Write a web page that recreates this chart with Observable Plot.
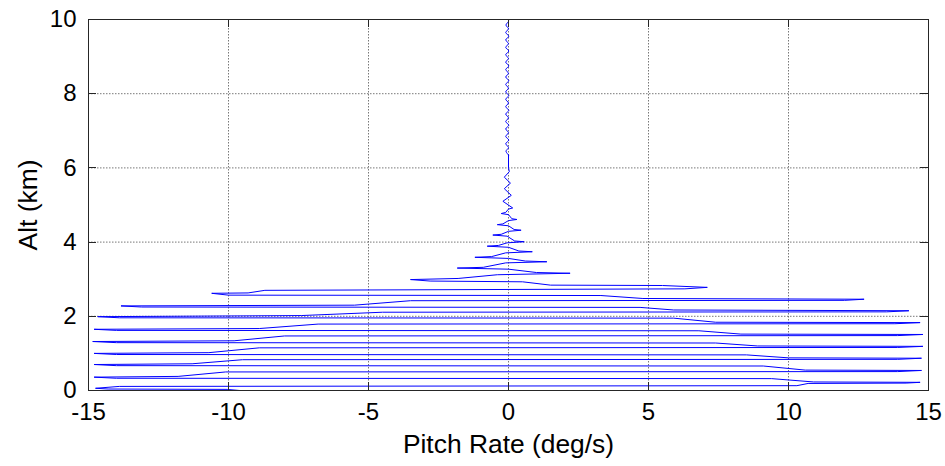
<!DOCTYPE html>
<html>
<head>
<meta charset="utf-8">
<script src="https://cdn.jsdelivr.net/npm/d3@7"></script>
<script src="https://cdn.jsdelivr.net/npm/@observablehq/plot@0.6"></script>
<style>
  html, body { margin: 0; padding: 0; background: #fff; }
  #chart svg { display: block; }
</style>
</head>
<body>
<div id="chart"></div>
<script>
// ---- data ----
const xTicks = [-15, -10, -5, 0, 5, 10, 15];
const yTicks = [0, 2, 4, 6, 8, 10];
const xLabel = "Pitch Rate (deg/s)";
const yLabel = "Alt (km)";

// oscillating part (pitch rate deg/s, altitude km), in time order
const sweepPitch = [
  -9.6, -10.05, -14.3, -14.75, -13.9, 10.3, 10.7, 14.2, 14.7,
  10.9, 9.4, -14.0, -14.8,
  -11.8, -10.1, 13.9, 14.75,
  10.6, 9.1, -14.0, -14.8,
  -11.3, -9.5, 13.9, 14.75,
  10.0, 8.5, -14.0, -14.8,
  -10.7, -8.9, 13.9, 14.8,
  8.9, 7.4, -14.0, -14.85,
  -9.8, -8.0, 13.9, 14.8,
  8.3, 6.8, -14.0, -14.8,
  -8.9, -6.8, 13.8, 14.7,
  7.4, 5.9, -13.9, -14.67,
  -7.4, -4.5, 13.5, 14.3,
  5.9, 4.7, -13.1, -13.84,
  -5.5, -3.5, 12.0, 12.7,
  4.8, 3.3, -10.0, -10.6,
  -9.3, -8.7, 6.3, 7.1,
  5.5, 1.5, 0.5, -2.8, -3.5,
  -1.8, -0.4, 2.2,
  1.0, 0.0, -1.83,
  -0.9, -0.1, 1.37,
  0.6, 0.0, -1.2,
  -0.6, -0.1, 0.85,
  0.37, 0.0, -0.76,
  -0.36, -0.05, 0.56,
  0.22, -0.05, -0.56,
  -0.26, 0.0, 0.45,
  0.2, 0.0, -0.4,
  -0.2, 0.0, 0.3,
  0.12, 0.0, -0.26,
  -0.1, 0.0, 0.15,
  -0.2, 0.1, -0.15, 0.07, -0.15, 0.03, 0.0, 0.0
];
const sweepAlt = [
  0.00, 0.03, 0.04, 0.06, 0.11, 0.13, 0.19, 0.20, 0.22,
  0.23, 0.32, 0.33, 0.36,
  0.38, 0.50, 0.51, 0.54,
  0.55, 0.66, 0.67, 0.70,
  0.72, 0.83, 0.84, 0.87,
  0.88, 0.96, 0.97, 1.00,
  1.02, 1.15, 1.16, 1.19,
  1.20, 1.28, 1.29, 1.32,
  1.34, 1.47, 1.48, 1.51,
  1.52, 1.61, 1.62, 1.65,
  1.67, 1.79, 1.80, 1.83,
  1.84, 1.95, 1.96, 1.99,
  2.02, 2.11, 2.12, 2.15,
  2.17, 2.24, 2.25, 2.28,
  2.30, 2.42, 2.43, 2.46,
  2.48, 2.56, 2.57, 2.62,
  2.63, 2.70, 2.74, 2.78,
  2.83, 2.84, 2.93, 2.95, 2.99,
  3.02, 3.12, 3.16,
  3.18, 3.27, 3.30,
  3.32, 3.44, 3.47,
  3.49, 3.56, 3.59,
  3.61, 3.71, 3.74,
  3.76, 3.86, 3.89,
  3.91, 3.98, 4.01,
  4.03, 4.16, 4.19,
  4.21, 4.29, 4.32,
  4.34, 4.44, 4.47,
  4.49, 4.58, 4.61,
  4.63, 4.74, 4.77,
  4.80, 4.89, 4.92,
  5.10, 5.26, 5.44, 5.59, 5.75, 5.90, 6.00, 6.35
];

// small residual wiggle at high altitude
const wigglePitch = [
  0.0, -0.09, 0.0, -0.1, 0.01, -0.1, 0.0, -0.1, 0.01, -0.1, 0.0,
  -0.1, 0.01, -0.1, 0.0, -0.1, 0.01, -0.1, 0.0, -0.1, 0.01,
  -0.1, 0.0, -0.1, 0.01, -0.1, 0.0, -0.1, 0.01, -0.1, 0.0,
  -0.1, 0.01, -0.1, 0.0, -0.09, 0.0, 0.0
];
const wiggleAlt = [
  6.35, 6.45, 6.55, 6.65, 6.75, 6.85, 6.95, 7.05, 7.15, 7.25, 7.35,
  7.45, 7.55, 7.65, 7.75, 7.85, 7.95, 8.05, 8.15, 8.25, 8.35,
  8.45, 8.55, 8.65, 8.75, 8.85, 8.95, 9.05, 9.15, 9.25, 9.35,
  9.45, 9.55, 9.65, 9.75, 9.85, 9.95, 10.0
];

const sweep = sweepPitch.map((p, i) => ({pitch: p, alt: sweepAlt[i]}));
const wiggle = wigglePitch.map((p, i) => ({pitch: p, alt: wiggleAlt[i]}));

const font = "'Liberation Sans', Arial, Helvetica, sans-serif";
const fs = 24;      // tick labels
const lfs = 26.4;   // axis labels

const chart = Plot.plot({
  width: 945,
  height: 466,
  marginLeft: 88,
  marginRight: 17,
  marginTop: 19,
  marginBottom: 76,
  style: {fontFamily: font, fontSize: fs + "px", background: "#fff", color: "#000"},
  x: {domain: [-15, 15], label: null},
  y: {domain: [0, 10], label: null},
  marks: [
    Plot.gridX(xTicks, {stroke: "#555", strokeOpacity: 1, strokeWidth: 0.8, strokeDasharray: "1.5,1.5"}),
    Plot.gridY(yTicks, {stroke: "#555", strokeOpacity: 1, strokeWidth: 0.8, strokeDasharray: "1.5,1.5"}),
    Plot.line(sweep, {x: "pitch", y: "alt", stroke: "#0000ff", strokeWidth: 1, curve: "linear"}),
    Plot.line(wiggle, {x: "pitch", y: "alt", stroke: "#0000ff", strokeWidth: 1, curve: "catmull-rom"}),
    Plot.frame({stroke: "#262626", strokeWidth: 1}),
    Plot.axisX(xTicks, {anchor: "bottom", tickSize: 0, tickPadding: 12, fontSize: fs, label: null, tickFormat: d => String(d)}),
    Plot.axisY(yTicks, {anchor: "left", tickSize: 0, tickPadding: 12, fontSize: fs, label: null}),
    Plot.text([xLabel], {frameAnchor: "bottom", dy: 54, text: d => d, fontSize: lfs, lineAnchor: "middle", textAnchor: "middle"}),
    Plot.text([yLabel], {frameAnchor: "left", dx: -60, rotate: -90, text: d => d, fontSize: lfs, lineAnchor: "middle", textAnchor: "middle"})
  ]
});

// inward MATLAB-style ticks on all four sides, placed with the plot's own scales
const sx = chart.scale("x"), sy = chart.scale("y");
const svg = d3.select(chart.tagName.toLowerCase() === "svg" ? chart : chart.querySelector("svg"));
const g = svg.append("g").attr("stroke", "#262626").attr("stroke-width", 1);
const tl = 8;
const yb = sy.apply(0), yt = sy.apply(10), xl = sx.apply(-15), xr = sx.apply(15);
for (const t of xTicks) {
  const x = Math.round(sx.apply(t)) + 0.5;
  g.append("line").attr("x1", x).attr("x2", x).attr("y1", yb).attr("y2", yb - tl);
  g.append("line").attr("x1", x).attr("x2", x).attr("y1", yt).attr("y2", yt + tl);
}
for (const t of yTicks) {
  const y = Math.round(sy.apply(t)) + 0.5;
  g.append("line").attr("x1", xl).attr("x2", xl + tl).attr("y1", y).attr("y2", y);
  g.append("line").attr("x1", xr).attr("x2", xr - tl).attr("y1", y).attr("y2", y);
}

document.getElementById("chart").appendChild(chart);
</script>
</body>
</html>
